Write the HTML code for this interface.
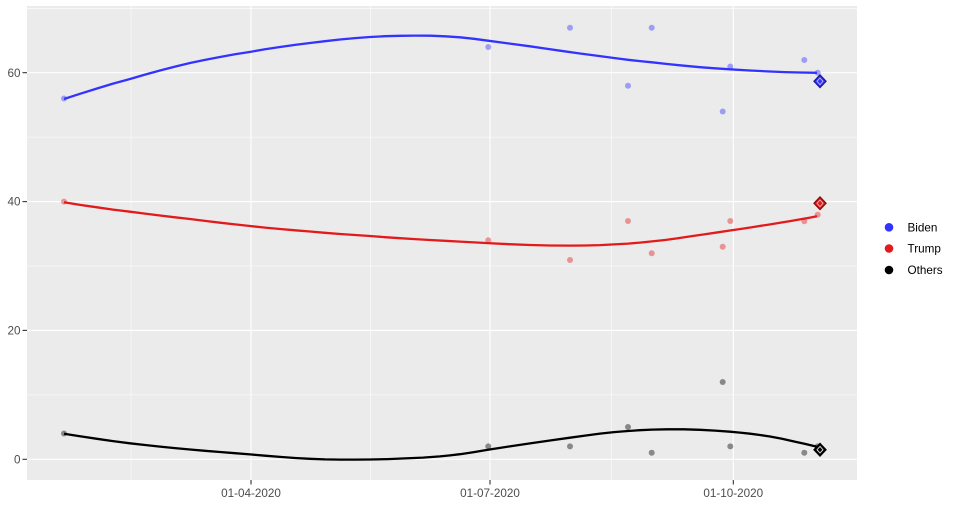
<!DOCTYPE html>
<html>
<head>
<meta charset="utf-8">
<style>
html,body{margin:0;padding:0;background:#fff;}
svg{display:block;font-family:"Liberation Sans",Arial,sans-serif;}
</style>
</head>
<body>
<svg width="960" height="507" viewBox="0 0 960 507" xmlns="http://www.w3.org/2000/svg">
  <rect x="0" y="0" width="960" height="507" fill="#ffffff"/>
  <!-- panel -->
  <rect x="27" y="6" width="830" height="474" fill="#ebebeb"/>
  <!-- minor grid -->
  <g stroke="#ffffff" stroke-width="0.55" fill="none">
    <line x1="27" x2="857" y1="8.3" y2="8.3"/>
    <line x1="27" x2="857" y1="137.1" y2="137.1"/>
    <line x1="27" x2="857" y1="266" y2="266"/>
    <line x1="27" x2="857" y1="394.9" y2="394.9"/>
    <line x1="131" x2="131" y1="6" y2="480"/>
    <line x1="370.5" x2="370.5" y1="6" y2="480"/>
    <line x1="611.5" x2="611.5" y1="6" y2="480"/>
  </g>
  <!-- major grid -->
  <g stroke="#ffffff" stroke-width="1.1" fill="none">
    <line x1="27" x2="857" y1="72.7" y2="72.7"/>
    <line x1="27" x2="857" y1="201.6" y2="201.6"/>
    <line x1="27" x2="857" y1="330.4" y2="330.4"/>
    <line x1="27" x2="857" y1="459.3" y2="459.3"/>
    <line x1="251" x2="251" y1="6" y2="480"/>
    <line x1="490" x2="490" y1="6" y2="480"/>
    <line x1="733.3" x2="733.3" y1="6" y2="480"/>
  </g>

  <!-- points Biden -->
  <g fill="#3333ff" fill-opacity="0.42">
    <circle cx="64" cy="98.5" r="3"/>
    <circle cx="488.3" cy="47" r="3"/>
    <circle cx="570" cy="27.8" r="3"/>
    <circle cx="628" cy="85.8" r="3"/>
    <circle cx="651.7" cy="27.8" r="3"/>
    <circle cx="722.7" cy="111.5" r="3"/>
    <circle cx="730.3" cy="66.5" r="3"/>
    <circle cx="804.3" cy="60" r="3"/>
    <circle cx="817.7" cy="72.7" r="3"/>
  </g>
  <!-- points Trump -->
  <g fill="#e31a1c" fill-opacity="0.42">
    <circle cx="64" cy="201.6" r="3"/>
    <circle cx="488.3" cy="240.3" r="3"/>
    <circle cx="570" cy="260" r="3"/>
    <circle cx="628" cy="221" r="3"/>
    <circle cx="651.7" cy="253.3" r="3"/>
    <circle cx="722.7" cy="246.7" r="3"/>
    <circle cx="730.3" cy="221" r="3"/>
    <circle cx="804.3" cy="221.3" r="3"/>
    <circle cx="817.7" cy="214.7" r="3"/>
  </g>
  <!-- points Others -->
  <g fill="#000000" fill-opacity="0.42">
    <circle cx="64" cy="433.5" r="3"/>
    <circle cx="488.3" cy="446.4" r="3"/>
    <circle cx="570" cy="446.4" r="3"/>
    <circle cx="628" cy="427" r="3"/>
    <circle cx="651.7" cy="452.8" r="3"/>
    <circle cx="722.7" cy="382" r="3"/>
    <circle cx="730.3" cy="446.4" r="3"/>
    <circle cx="804.3" cy="452.8" r="3"/>
    <circle cx="817.7" cy="446.4" r="3"/>
  </g>

  <!-- smooth lines -->
  <g fill="none" stroke-width="2.3" stroke-linejoin="round" stroke-linecap="butt">
    <polyline stroke="#3333ff" points="64,99 80,93.8 97,88.5 113,83.6 130,79 145,74.6 160,70.5 175,66.6 190,63 205,59.9 220,57 235,54.3 251,51.7 265,49.3 280,47 295,44.9 310,43 325,41.2 340,39.5 355,38.1 370,37 385,36.2 400,35.8 415,35.6 430,35.7 445,36.3 460,37.3 474,38.8 488,40.7 509,43.5 530,46.3 545,48.5 560,50.7 580,53.5 600,56.1 614,58 628,59.8 640,61.1 652,62.3 666,63.9 680,65.3 700,67.2 715,68.3 730,69.3 750,70.5 770,71.5 785,72.1 800,72.5 817,72.8"/>
    <polyline stroke="#e31a1c" points="64,202.3 80,204.9 97,207.3 113,209.6 130,211.7 145,213.6 160,215.5 175,217.3 190,219 205,220.9 220,222.7 235,224.4 250,226 265,227.6 280,229 295,230.3 310,231.5 325,232.8 340,234 355,235 370,236 385,237.2 400,238.2 415,239.1 430,240 445,240.8 460,241.6 474,242.4 488,243.1 509,244.2 530,245 550,245.5 570,245.6 585,245.5 600,245.1 614,244.4 628,243.6 640,242.6 652,241.4 665,240 677,238.4 691,236.3 705,234.2 718,232.3 730,230.5 743,228.6 755,226.7 768,224.7 780,222.7 790,221.1 800,219.4 808,218 817,216.3"/>
    <polyline stroke="#000000" points="64,433.7 80,436.3 97,438.8 113,441.1 130,443.3 145,445 160,446.6 175,448.1 190,449.5 205,450.8 220,452 235,453.2 250,454.4 265,455.7 280,456.9 295,458 310,458.8 325,459.4 340,459.6 355,459.6 370,459.5 388,459.1 405,458.4 423,457.6 440,456.4 450,455.4 460,454.2 474,452.1 488,449.7 509,446.5 530,443.4 550,440.5 570,437.7 585,435.6 600,433.6 614,432.1 628,431 640,430.2 652,429.6 667,429.3 684,429.3 700,429.8 715,430.6 730,431.7 740,432.6 750,433.7 760,435 770,436.5 782,438.8 793,441.3 805,443.9 817,446.8"/>
  </g>

  <!-- diamonds -->
  <g stroke-linejoin="miter">
    <polygon points="820,75 826,81.3 820,87.6 814,81.3" fill="#3333ff" stroke="#1a1a99" stroke-width="1.3"/>
    <polygon points="820,78 823,81.3 820,84.6 817,81.3" fill="none" stroke="#ffffff" stroke-opacity="0.7" stroke-width="0.8"/>
    <polygon points="820,197 826,203.3 820,209.6 814,203.3" fill="#e31a1c" stroke="#8a0c0e" stroke-width="1.3"/>
    <polygon points="820,200 823,203.3 820,206.6 817,203.3" fill="none" stroke="#ffffff" stroke-opacity="0.7" stroke-width="0.8"/>
    <polygon points="820,443.4 826,449.7 820,456 814,449.7" fill="#000000" stroke="#000000" stroke-width="1.3"/>
    <polygon points="820,446.4 823,449.7 820,453 817,449.7" fill="none" stroke="#ffffff" stroke-opacity="0.9" stroke-width="0.9"/>
  </g>

  <!-- axis ticks -->
  <g stroke="#333333" stroke-width="1.1">
    <line x1="22.5" x2="27" y1="72.7" y2="72.7"/>
    <line x1="22.5" x2="27" y1="201.6" y2="201.6"/>
    <line x1="22.5" x2="27" y1="330.4" y2="330.4"/>
    <line x1="22.5" x2="27" y1="459.3" y2="459.3"/>
    <line x1="251" x2="251" y1="480" y2="484.5"/>
    <line x1="490" x2="490" y1="480" y2="484.5"/>
    <line x1="733.3" x2="733.3" y1="480" y2="484.5"/>
  </g>
  <!-- axis labels -->
  <g fill="#4d4d4d" font-size="11.7" text-anchor="end">
    <text x="20.5" y="76.8">60</text>
    <text x="20.5" y="205.7">40</text>
    <text x="20.5" y="334.5">20</text>
    <text x="20.5" y="463.4">0</text>
  </g>
  <g fill="#4d4d4d" font-size="11.7" text-anchor="middle">
    <text x="251" y="497">01-04-2020</text>
    <text x="490" y="497">01-07-2020</text>
    <text x="733.3" y="497">01-10-2020</text>
  </g>

  <!-- legend -->
  <circle cx="889" cy="227.3" r="4.3" fill="#3333ff"/>
  <circle cx="889" cy="248.5" r="4.3" fill="#e31a1c"/>
  <circle cx="889" cy="270" r="4.3" fill="#000000"/>
  <g fill="#000000" font-size="11.7">
    <text x="907.5" y="231.5">Biden</text>
    <text x="907.5" y="252.7">Trump</text>
    <text x="907.5" y="274.2">Others</text>
  </g>
</svg>
</body>
</html>
